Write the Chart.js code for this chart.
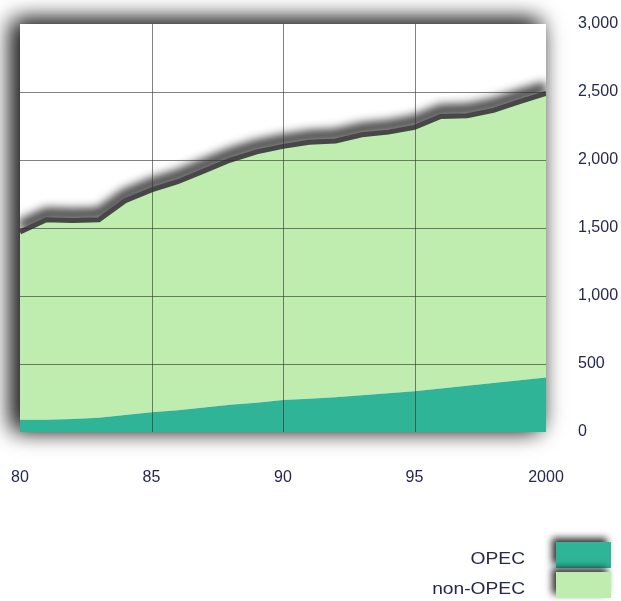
<!DOCTYPE html>
<html lang="en">
  <head>
    <meta charset="utf-8" />
    <title>OPEC / non-OPEC</title>
    <script src="https://cdn.jsdelivr.net/npm/chart.js@4/dist/chart.umd.min.js"></script>
    <style>
      html, body { margin: 0; padding: 0; background: #fff; }
      #wrap { width: 621px; height: 601px; position: relative; }
    </style>
  </head>
  <body>
    <div id="wrap"><canvas id="areaChart"></canvas></div>
    <script>
      // values
      const years = [1980, 1981, 1982, 1983, 1984, 1985, 1986, 1987, 1988, 1989, 1990,
                     1991, 1992, 1993, 1994, 1995, 1996, 1997, 1998, 1999, 2000];
      const opec = [90, 90, 95, 105, 125, 145, 160, 180, 200, 215, 235,
                    245, 255, 270, 285, 300, 320, 340, 360, 380, 400];
      const nonOpec = [1380, 1470, 1460, 1455, 1575, 1635, 1680, 1740, 1800, 1845, 1865,
                       1885, 1885, 1915, 1920, 1940, 2000, 1985, 2005, 2050, 2090];
      const yTicks = [0, 500, 1000, 1500, 2000, 2500, 3000];
      const xTicks = [1980, 1985, 1990, 1995, 2000];

      const teal = "#2fb497";
      const lightGreen = "#bfecaf";
      const textColor = "#25284f";
      const fontFamily = "Arial, 'Liberation Sans', sans-serif";

      // soft grey shadow round the plot box
      const boxShadow = {
        id: "boxShadow",
        beforeDraw(chart) {
          const { ctx, chartArea: a } = chart;
          ctx.save();
          ctx.shadowColor = "rgba(0,0,0,0.7)";
          ctx.shadowBlur = 22;
          ctx.shadowOffsetX = -7;
          ctx.shadowOffsetY = -3;
          ctx.fillStyle = "#fff";
          for (let k = 0; k < 2; k++) {
            ctx.fillRect(a.left, a.top, a.right - a.left, a.bottom - a.top);
          }
          ctx.restore();
        },
      };

      // blurred halo above the top line, drawn before the fills cover its lower half
      const lineHalo = {
        id: "lineHalo",
        beforeDatasetsDraw(chart) {
          const pts = chart.getDatasetMeta(1).data;
          const { ctx, chartArea: a } = chart;
          ctx.save();
          ctx.beginPath();
          ctx.rect(a.left, a.top, a.right - a.left, a.bottom - a.top);
          ctx.clip();
          ctx.filter = "blur(5px)";
          ctx.strokeStyle = "rgba(0,0,0,0.75)";
          ctx.lineWidth = 12;
          ctx.lineJoin = "round";
          ctx.beginPath();
          pts.forEach((p, i) => (i ? ctx.lineTo(p.x, p.y - 6) : ctx.moveTo(p.x, p.y - 6)));
          ctx.stroke();
          ctx.restore();
        },
      };

      // grid drawn over the areas
      const topGrid = {
        id: "topGrid",
        afterDatasetsDraw(chart) {
          const { ctx, chartArea: a, scales } = chart;
          ctx.save();
          ctx.strokeStyle = "rgba(45,50,40,0.6)";
          ctx.lineWidth = 1;
          ctx.beginPath();
          xTicks.slice(1, -1).forEach((v) => {
            const x = Math.round(scales.x.getPixelForValue(v)) + 0.5;
            ctx.moveTo(x, a.top);
            ctx.lineTo(x, a.bottom);
          });
          yTicks.slice(1, -1).forEach((v) => {
            const y = Math.round(scales.y.getPixelForValue(v)) + 0.5;
            ctx.moveTo(a.left, y);
            ctx.lineTo(a.right, y);
          });
          ctx.stroke();
          ctx.restore();
        },
      };

      // legend at bottom right: text, then swatch
      const sideLegend = {
        id: "sideLegend",
        afterDraw(chart) {
          const ctx = chart.ctx;
          const ds = chart.data.datasets;
          const items = [
            { label: ds[0].label, color: ds[0].backgroundColor, y: 560 },
            { label: ds[1].label, color: ds[1].backgroundColor, y: 590 },
          ];
          items.forEach((it) => {
            ctx.save();
            ctx.translate(525, it.y);
            ctx.scale(1.2, 1);
            ctx.font = "16px " + fontFamily;
            ctx.textAlign = "right";
            ctx.textBaseline = "middle";
            ctx.fillStyle = textColor;
            ctx.fillText(it.label, 0, 0);
            ctx.restore();
            ctx.save();
            ctx.shadowColor = "rgba(0,0,0,0.8)";
            ctx.shadowBlur = 7;
            ctx.shadowOffsetX = -4;
            ctx.shadowOffsetY = -4;
            ctx.fillStyle = it.color;
            ctx.fillRect(556, it.y - 18, 55, 26);
            ctx.restore();
          });
        },
      };

      const ctx = document.getElementById("areaChart").getContext("2d");
      const chart = new Chart(ctx, {
        type: "line",
        data: {
          datasets: [
            {
              label: "OPEC",
              data: years.map((y, i) => ({ x: y, y: opec[i] })),
              backgroundColor: teal,
              borderWidth: 0,
              pointRadius: 0,
              fill: "origin",
            },
            {
              label: "non-OPEC",
              data: years.map((y, i) => ({ x: y, y: nonOpec[i] })),
              backgroundColor: lightGreen,
              borderColor: "#474747",
              borderWidth: 5,
              pointRadius: 0,
              fill: "-1",
            },
          ],
        },
        options: {
          responsive: true,
          maintainAspectRatio: false,
          animation: false,
          layout: { padding: { left: 20, top: 24, right: 0, bottom: 119 } },
          plugins: { legend: { display: false }, tooltip: { enabled: false } },
          scales: {
            x: {
              type: "linear",
              min: 1980,
              max: 2000,
              afterBuildTicks: (s) => { s.ticks = xTicks.map((v) => ({ value: v })); },
              afterFit: (s) => { s.height = 50; s.paddingLeft = 0; s.paddingRight = 0; },
              border: { display: false },
              grid: { display: false },
              ticks: {
                padding: 28,
                color: textColor,
                font: { family: fontFamily, size: 16 },
                maxRotation: 0,
                callback: (v) => (v === 2000 ? "2000" : String(v).slice(2)),
              },
            },
            y: {
              position: "right",
              stacked: true,
              min: 0,
              max: 3000,
              afterBuildTicks: (s) => { s.ticks = yTicks.map((v) => ({ value: v })); },
              afterFit: (s) => { s.width = 75; s.paddingTop = 0; s.paddingBottom = 0; },
              border: { display: false },
              grid: { display: false },
              ticks: {
                padding: 24,
                color: textColor,
                font: { family: fontFamily, size: 16 },
              },
            },
          },
        },
        plugins: [boxShadow, lineHalo, topGrid, sideLegend],
      });
    </script>
  </body>
</html>
